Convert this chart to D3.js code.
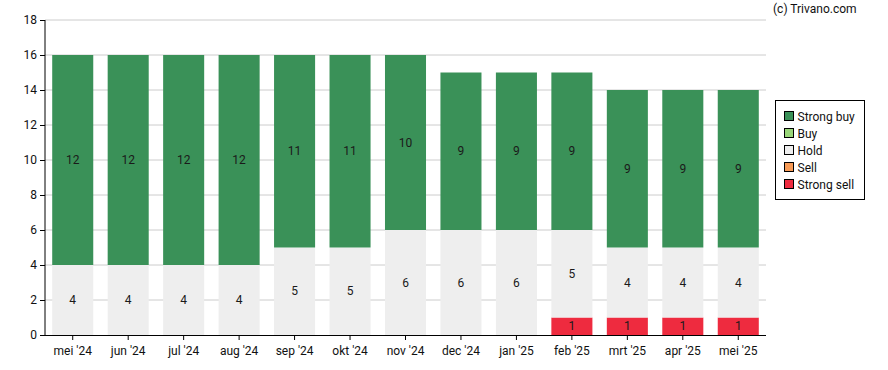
<!DOCTYPE html>
<html>
<head>
<meta charset="utf-8">
<script src="https://cdn.jsdelivr.net/npm/d3@7"></script>
<style>
  body { margin: 0; background: #fff; }
  svg text { font-family: Roboto, "Noto Sans", sans-serif; }
</style>
</head>
<body>
<div id="chart"></div>
<script>
var months = ["mei '24", "jun '24", "jul '24", "aug '24", "sep '24", "okt '24", "nov '24",
  "dec '24", "jan '25", "feb '25", "mrt '25", "apr '25", "mei '25"];
var strongBuy = [12, 12, 12, 12, 11, 11, 10, 9, 9, 9, 9, 9, 9];
var buy = [0, 0, 0, 0, 0, 0, 0, 0, 0, 0, 0, 0, 0];
var hold = [4, 4, 4, 4, 5, 5, 6, 6, 6, 5, 4, 4, 4];
var sell = [0, 0, 0, 0, 0, 0, 0, 0, 0, 0, 0, 0, 0];
var strongSell = [0, 0, 0, 0, 0, 0, 0, 0, 0, 1, 1, 1, 1];
var yTicks = [0, 2, 4, 6, 8, 10, 12, 14, 16, 18];

var seriesNames = ["Strong buy", "Buy", "Hold", "Sell", "Strong sell"];
var colors = {
  "Strong buy": "#3a9158",
  "Buy": "#99d679",
  "Hold": "#eeeeee",
  "Sell": "#f79a55",
  "Strong sell": "#ee2b3f"
};

var svgWidth = 888;
var svgHeight = 370;
var margin = { top: 20, right: 122, bottom: 35, left: 45 };
var width = svgWidth - margin.left - margin.right;
var height = svgHeight - margin.top - margin.bottom;

var svg = d3.select("#chart")
  .append("svg")
  .attr("width", svgWidth)
  .attr("height", svgHeight);

var chartGroup = svg.append("g")
  .attr("transform", `translate(${margin.left}, ${margin.top})`);

// build rows for stacking
var rows = months.map(function(m, i) {
  return {
    month: m,
    "Strong buy": strongBuy[i],
    "Buy": buy[i],
    "Hold": hold[i],
    "Sell": sell[i],
    "Strong sell": strongSell[i]
  };
});

// stack from bottom: strong sell, sell, hold, buy, strong buy
var stack = d3.stack().keys(seriesNames.slice().reverse());
var stacked = stack(rows);

var x = d3.scaleBand()
  .domain(months)
  .range([0, width])
  .paddingInner(0.26)
  .paddingOuter(0.13);

var y = d3.scaleLinear()
  .domain([0, 18])
  .range([height, 0]);

// gridlines
chartGroup.append("g")
  .selectAll("line")
  .data(yTicks.filter(d => d > 0))
  .enter()
  .append("line")
  .attr("x1", 0)
  .attr("x2", width)
  .attr("y1", d => y(d))
  .attr("y2", d => y(d))
  .attr("stroke", "#cccccc")
  .attr("stroke-width", 1);

// bars
var layers = chartGroup.selectAll(".layer")
  .data(stacked)
  .enter()
  .append("g")
  .attr("fill", d => colors[d.key]);

layers.selectAll("rect")
  .data(d => d.filter(s => s[1] - s[0] > 0))
  .enter()
  .append("rect")
  .attr("x", d => x(d.data.month))
  .attr("y", d => y(d[1]))
  .attr("width", x.bandwidth())
  .attr("height", d => y(d[0]) - y(d[1]));

// value labels
layers.selectAll("text")
  .data(d => d.filter(s => s[1] - s[0] > 0))
  .enter()
  .append("text")
  .attr("x", d => x(d.data.month) + x.bandwidth() / 2)
  .attr("y", d => (y(d[0]) + y(d[1])) / 2)
  .attr("dy", "0.35em")
  .attr("text-anchor", "middle")
  .attr("fill", "#1a1a1a")
  .style("font-size", "12px")
  .text(d => d[1] - d[0]);

// axes
var leftAxis = d3.axisLeft(y).tickValues(yTicks).tickSize(5).tickPadding(3);
var bottomAxis = d3.axisBottom(x).tickSize(5).tickPadding(6);

var yAxis = chartGroup.append("g").call(leftAxis);
yAxis.select(".domain").attr("d", `M0,0V${height + 0.5}`);

var xAxis = chartGroup.append("g")
  .attr("transform", `translate(0, ${height})`)
  .call(bottomAxis);
xAxis.select(".domain").attr("d", `M0,0.5H${width}`);

chartGroup.selectAll(".tick text")
  .style("font-size", "12px")
  .attr("fill", "#111");
chartGroup.selectAll(".domain, .tick line").attr("stroke", "#000");

// legend
var legend = svg.append("g")
  .attr("transform", "translate(775.5, 100.5)");

legend.append("rect")
  .attr("width", 89)
  .attr("height", 99)
  .attr("fill", "#fff")
  .attr("stroke", "#000");

var items = legend.selectAll(".item")
  .data(seriesNames)
  .enter()
  .append("g")
  .attr("transform", (d, i) => `translate(9, ${11 + i * 17})`);

items.append("rect")
  .attr("width", 9)
  .attr("height", 9)
  .attr("fill", d => colors[d])
  .attr("stroke", "#000");

items.append("text")
  .attr("x", 13)
  .attr("y", 5)
  .attr("dy", "0.35em")
  .style("font-size", "12px")
  .attr("fill", "#111")
  .text(d => d);

// copyright
svg.append("text")
  .attr("x", 773)
  .attr("y", 9)
  .attr("dy", "0.35em")
  .style("font-size", "12px")
  .attr("fill", "#111")
  .text("(c) Trivano.com");
</script>
</body>
</html>
